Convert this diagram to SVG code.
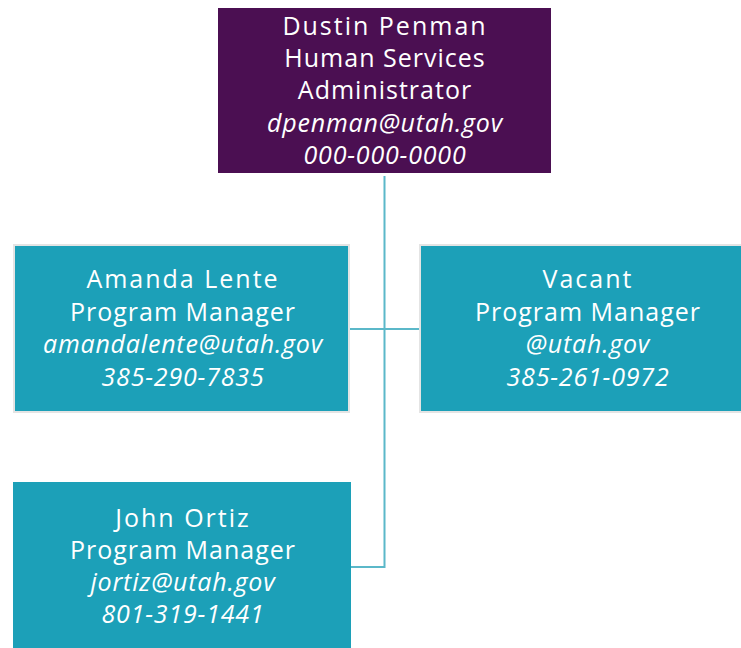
<svg xmlns="http://www.w3.org/2000/svg" width="741" height="648" viewBox="0 0 741 648">
<style>
.t{font-family:"Open Sans","Liberation Sans",sans-serif;font-size:25px;fill:#ffffff;text-anchor:middle;letter-spacing:1px}
.n{letter-spacing:2px}
.i{font-style:italic;letter-spacing:0.8px}
.teal{fill:#1ca0b8}
.bd{stroke:#e4e4e4;stroke-width:2}
.c{stroke:#5bb8c9;stroke-width:2;fill:none}
</style>
<rect width="741" height="648" fill="#ffffff"/>
<g id="connectors">
<path class="c" d="M384.5 176 V567 H351"/>
<path class="c" d="M350 329 H420"/>
</g>
<g id="dustin">
<rect x="218" y="8" width="333" height="165" fill="#4b0f52"/>
<text class="t n" x="385" y="35">Dustin Penman</text>
<text class="t" x="385" y="67">Human Services</text>
<text class="t" x="385" y="99">Administrator</text>
<text class="t i" x="385" y="132">dpenman@utah.gov</text>
<text class="t i" x="385" y="164">000-000-0000</text>
</g>
<g id="amanda">
<rect class="teal bd" x="14" y="245" width="335" height="167"/>
<text class="t n" x="183" y="288">Amanda Lente</text>
<text class="t" x="183" y="321">Program Manager</text>
<text class="t i" x="183" y="353">amandalente@utah.gov</text>
<text class="t i" x="183" y="386">385-290-7835</text>
</g>
<g id="vacant">
<rect class="teal bd" x="420" y="245" width="323" height="167"/>
<text class="t n" x="588" y="288">Vacant</text>
<text class="t" x="588" y="321">Program Manager</text>
<text class="t i" x="588" y="353">@utah.gov</text>
<text class="t i" x="588" y="386">385-261-0972</text>
</g>
<g id="john">
<rect class="teal" x="13" y="482" width="338" height="168"/>
<text class="t n" x="183" y="527">John Ortiz</text>
<text class="t" x="183" y="559">Program Manager</text>
<text class="t i" x="183" y="591">jortiz@utah.gov</text>
<text class="t i" x="183" y="623">801-319-1441</text>
</g>
</svg>
